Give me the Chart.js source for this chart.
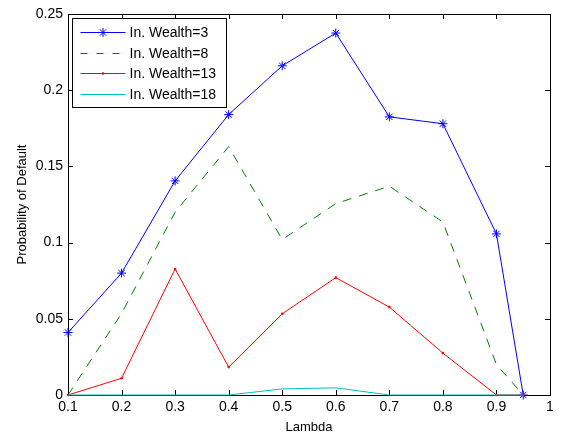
<!DOCTYPE html>
<html>
<head>
<meta charset="utf-8">
<script src="https://cdn.jsdelivr.net/npm/chart.js@4.4.0/dist/chart.umd.min.js"></script>
<style>
  html, body { margin: 0; padding: 0; background: #fff; }
</style>
</head>
<body>
<canvas id="pdChart" width="566" height="436"></canvas>
<script>
// values
const lambdas = [0.1, 0.2, 0.3, 0.4, 0.5, 0.6, 0.7, 0.8, 0.9, 0.95];
const wealth3 = [0.041, 0.080, 0.1405, 0.184, 0.216, 0.2375, 0.1825, 0.178, 0.1057, 0];
const wealth8 = [0, 0.0535, 0.120, 0.163, 0.102, 0.1256, 0.137, 0.1135, 0.020, 0];
const wealth13 = [0, 0.011, 0.0827, 0.0183, 0.0533, 0.077, 0.0577, 0.0275, 0, 0];
const wealth18 = [0, 0, 0, 0, 0.004, 0.0047, 0, 0, 0, 0];
const seriesNames = ["In. Wealth=3", "In. Wealth=8", "In. Wealth=13", "In. Wealth=18"];
const xTicks = [0.1, 0.2, 0.3, 0.4, 0.5, 0.6, 0.7, 0.8, 0.9, 1];
const yTicks = [0, 0.05, 0.1, 0.15, 0.2, 0.25];

const FONT = "'Liberation Sans', Arial, Helvetica, sans-serif";

function toPoints(values) {
  return values.map((v, i) => ({ x: lambdas[i], y: v }));
}

function fmt(v) {
  return String(+v.toFixed(2));
}

// matlab style box with inward ticks on all four sides
const axesBox = {
  id: "axesBox",
  beforeDatasetsDraw(chart) {
    const { ctx, chartArea: a, scales } = chart;
    const len = 5;
    ctx.save();
    ctx.strokeStyle = "#000";
    ctx.lineWidth = 1;
    ctx.beginPath();
    xTicks.forEach(t => {
      const px = Math.round(scales.x.getPixelForValue(t)) + 0.5;
      ctx.moveTo(px, a.bottom);
      ctx.lineTo(px, a.bottom - len);
      ctx.moveTo(px, a.top);
      ctx.lineTo(px, a.top + len);
    });
    yTicks.forEach(t => {
      const py = Math.round(scales.y.getPixelForValue(t)) + 0.5;
      ctx.moveTo(a.left, py);
      ctx.lineTo(a.left + len, py);
      ctx.moveTo(a.right, py);
      ctx.lineTo(a.right - len, py);
    });
    ctx.stroke();
    ctx.strokeRect(Math.round(a.left) + 0.5, Math.round(a.top) + 0.5,
      Math.round(a.right - a.left), Math.round(a.bottom - a.top));
    ctx.restore();
  }
};

const boxLegend = {
  id: "boxLegend",
  afterDraw(chart) {
    const { ctx, chartArea: a } = chart;
    const x0 = Math.round(a.left) + 4.5, y0 = Math.round(a.top) + 4.5;
    const w = 154, h = 89;
    ctx.save();
    ctx.fillStyle = "#fff";
    ctx.fillRect(x0, y0, w, h);
    ctx.strokeStyle = "#000";
    ctx.lineWidth = 1;
    ctx.strokeRect(x0, y0, w, h);
    ctx.font = "14px " + FONT;
    ctx.textBaseline = "middle";
    chart.data.datasets.forEach((ds, i) => {
      const y = Math.round(y0 + 13.5 + i * 20.7) + 0.5;
      ctx.strokeStyle = ds.borderColor;
      ctx.lineWidth = ds.borderWidth;
      ctx.setLineDash(ds.borderDash ? [7, 9] : []);
      ctx.beginPath();
      ctx.moveTo(x0 + 8, y);
      ctx.lineTo(x0 + 53, y);
      ctx.stroke();
      ctx.setLineDash([]);
      if (ds.pointRadius > 0) {
        ctx.fillStyle = ds.pointBackgroundColor;
        ctx.strokeStyle = ds.pointBorderColor;
        Chart.helpers.drawPoint(ctx, {
          pointStyle: ds.pointStyle, radius: ds.pointRadius,
          borderWidth: ds.pointBorderWidth, rotation: 0
        }, x0 + 30.5, y);
      }
      ctx.fillStyle = "#000";
      ctx.fillText(ds.label, x0 + 57, y + 1);
    });
    ctx.restore();
  }
};

const datasets = [
  {
    label: seriesNames[0], data: toPoints(wealth3),
    borderColor: "#0000ff", borderWidth: 1,
    pointStyle: "star", pointRadius: 4.5, pointBorderWidth: 1,
    pointBorderColor: "#0000ff", pointBackgroundColor: "#0000ff", order: 3
  },
  {
    label: seriesNames[1], data: toPoints(wealth8),
    borderColor: "#008000", borderWidth: 1, borderDash: [9, 8],
    pointRadius: 0, order: 2
  },
  {
    label: seriesNames[2], data: toPoints(wealth13),
    borderColor: "#ff0000", borderWidth: 1,
    pointStyle: "circle", pointRadius: 1.3, pointBorderWidth: 0,
    pointBorderColor: "#ff0000", pointBackgroundColor: "#ff0000", order: 1
  },
  {
    label: seriesNames[3], data: toPoints(wealth18),
    borderColor: "#00bfbf", borderWidth: 1,
    pointRadius: 0, order: 0
  }
];

new Chart(document.getElementById("pdChart"), {
  type: "line",
  data: { datasets: datasets.map(d => Object.assign({ tension: 0, fill: false, clip: false }, d)) },
  options: {
    responsive: false,
    animation: false,
    layout: { padding: { top: 14, right: 16, left: 0, bottom: 0 } },
    plugins: { legend: { display: false }, tooltip: { enabled: false } },
    scales: {
      x: {
        type: "linear", min: 0.1, max: 1,
        afterBuildTicks: s => { s.ticks = xTicks.map(v => ({ value: v })); },
        afterFit: s => { s.height = 41; },
        grid: { display: false, drawTicks: false },
        border: { display: false },
        ticks: { color: "#000", font: { family: FONT, size: 14 }, padding: 4, maxRotation: 0, autoSkip: false, callback: fmt },
        title: { display: true, text: "Lambda", color: "#000", font: { family: FONT, size: 13 }, padding: { top: 0, bottom: 1 } }
      },
      y: {
        type: "linear", min: 0, max: 0.25,
        afterBuildTicks: s => { s.ticks = yTicks.map(v => ({ value: v })); },
        afterFit: s => { s.width = 68; },
        grid: { display: false, drawTicks: false },
        border: { display: false },
        ticks: { color: "#000", font: { family: FONT, size: 14 }, padding: 5, autoSkip: false, callback: fmt },
        title: { display: true, text: "Probability of Default", color: "#000", font: { family: FONT, size: 13 }, padding: { top: 15, bottom: 0 } }
      }
    }
  },
  plugins: [axesBox, boxLegend]
});
</script>
</body>
</html>
